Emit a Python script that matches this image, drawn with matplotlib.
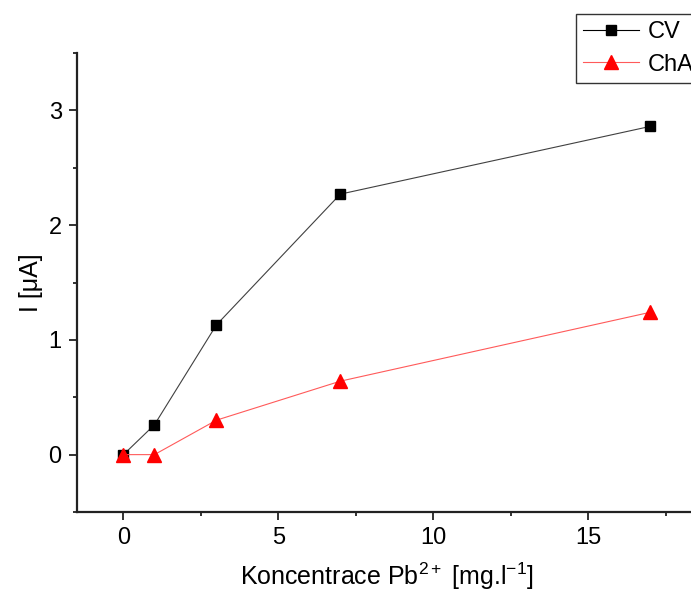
import numpy as np
import matplotlib
matplotlib.use('Agg')
import matplotlib.pyplot as plt
from matplotlib.ticker import MultipleLocator

plt.rcParams['font.family'] = ['Liberation Sans', 'DejaVu Sans']
plt.rcParams['mathtext.fontset'] = 'custom'
plt.rcParams['mathtext.rm'] = 'Liberation Sans'
plt.rcParams['mathtext.it'] = 'Liberation Sans:italic'

# data
konc = [0, 1, 3, 7, 17]
cv = [0.0, 0.26, 1.13, 2.27, 2.86]
cha = [0.0, 0.0, 0.30, 0.64, 1.24]

fig = plt.figure(figsize=(6.91, 5.95), dpi=100)
ax = fig.add_axes([77 / 691, 1 - 512 / 595, (696.5 - 77) / 691, (512 - 53) / 595])

ax.plot(konc, cv, '-', color='#404040', linewidth=0.8,
        marker='s', markersize=7, markerfacecolor='black', markeredgecolor='black',
        label='CV', clip_on=False)
ax.plot(konc, cha, '-', color='#ff5a5a', linewidth=0.8,
        marker='^', markersize=10, markerfacecolor='red', markeredgecolor='red',
        label='ChA', clip_on=False)

ax.set_xlim(-1.5, 18.5)
ax.set_ylim(-0.5, 3.5)
ax.xaxis.set_major_locator(MultipleLocator(5))
ax.xaxis.set_minor_locator(MultipleLocator(2.5))
ax.yaxis.set_major_locator(MultipleLocator(1))
ax.yaxis.set_minor_locator(MultipleLocator(0.5))

for s in ['top', 'right']:
    ax.spines[s].set_visible(False)
for s in ['left', 'bottom']:
    ax.spines[s].set_linewidth(1.6)
    ax.spines[s].set_color('#222222')

ax.tick_params(which='major', direction='out', length=6, width=1.3,
               labelsize=17, color='#222222', pad=5)
ax.tick_params(which='minor', direction='out', length=3, width=1.3, color='#222222')

ax.set_xlabel('Koncentrace Pb$^{\\mathrm{2+}}$ [mg.l$^{\\mathrm{-1}}$]', fontsize=18, labelpad=8)
ax.set_ylabel('I [μA]', fontsize=18, labelpad=4)

leg = fig.legend(loc='upper left', bbox_to_anchor=(576 / 691, 1 - 14 / 595),
                 fontsize=17, frameon=True, fancybox=False, framealpha=1,
                 handlelength=2.35, borderpad=0.3, labelspacing=0.45,
                 handletextpad=0.4, borderaxespad=0)
leg.get_frame().set_edgecolor('#333333')
leg.get_frame().set_linewidth(1.0)
leg.get_lines()[0].set_color('black')

fig.savefig('out.png', dpi=100)
